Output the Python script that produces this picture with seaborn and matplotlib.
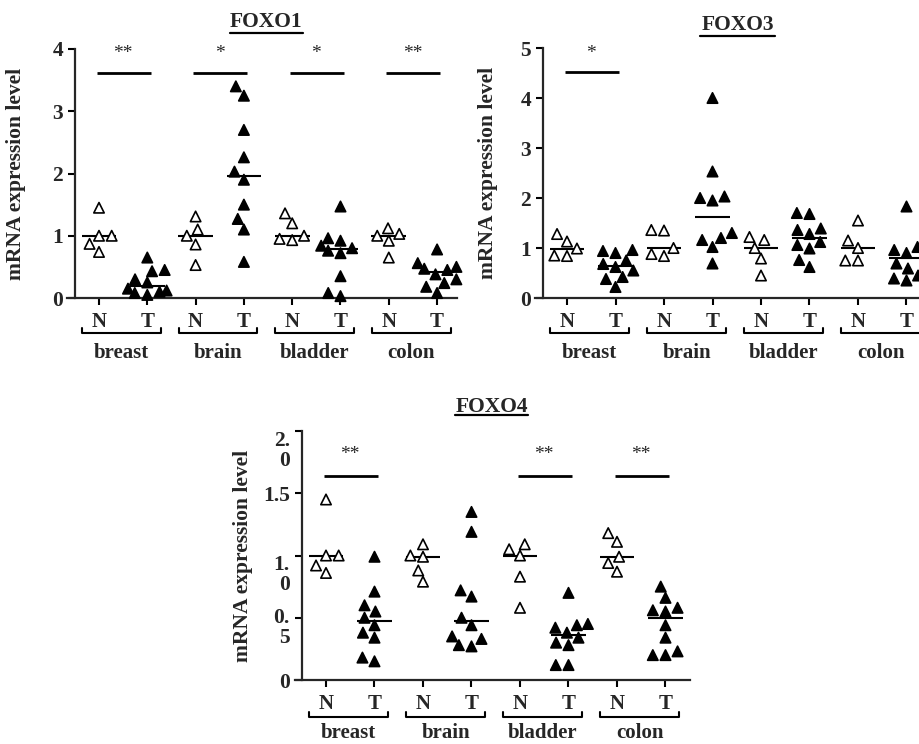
import numpy as np
import pandas as pd
import seaborn as sns
import matplotlib.pyplot as plt
from matplotlib import transforms
from matplotlib.lines import Line2D

tissues = ["breast", "brain", "bladder", "colon"]
groups = ["N", "T"]

# FOXO1 values
foxo1 = {
    ("breast", "N"): [1.45, 1.0, 1.0, 0.87, 0.74],
    ("breast", "T"): [0.65, 0.45, 0.43, 0.3, 0.25, 0.15, 0.12, 0.1, 0.08, 0.05],
    ("brain", "N"): [1.31, 1.1, 1.0, 0.86, 0.53],
    ("brain", "T"): [3.4, 3.25, 2.7, 2.26, 2.03, 1.9, 1.5, 1.27, 1.1, 0.58],
    ("bladder", "N"): [1.36, 1.2, 1.0, 0.95, 0.93],
    ("bladder", "T"): [1.47, 0.96, 0.92, 0.84, 0.8, 0.76, 0.72, 0.35, 0.08, 0.03],
    ("colon", "N"): [1.12, 1.03, 1.0, 0.92, 0.65],
    ("colon", "T"): [0.78, 0.56, 0.5, 0.47, 0.45, 0.38, 0.3, 0.24, 0.18, 0.08],
}
foxo3 = {
    ("breast", "N"): [1.28, 1.13, 0.99, 0.85, 0.84],
    ("breast", "T"): [0.96, 0.94, 0.9, 0.75, 0.68, 0.62, 0.55, 0.42, 0.38, 0.22],
    ("brain", "N"): [1.36, 1.35, 1.0, 0.88, 0.84],
    ("brain", "T"): [4.0, 2.53, 2.03, 2.0, 1.95, 1.3, 1.2, 1.16, 1.02, 0.69],
    ("bladder", "N"): [1.22, 1.16, 1.0, 0.79, 0.45],
    ("bladder", "T"): [1.7, 1.68, 1.39, 1.36, 1.28, 1.12, 1.06, 0.99, 0.76, 0.62],
    ("colon", "N"): [1.55, 1.15, 1.0, 0.75, 0.75],
    ("colon", "T"): [1.83, 1.06, 1.02, 0.96, 0.9, 0.69, 0.59, 0.45, 0.39, 0.35],
}
foxo4 = {
    ("breast", "N"): [1.45, 1.0, 1.0, 0.92, 0.86],
    ("breast", "T"): [0.99, 0.71, 0.6, 0.55, 0.5, 0.44, 0.38, 0.34, 0.18, 0.15],
    ("brain", "N"): [1.09, 1.0, 0.99, 0.88, 0.79],
    ("brain", "T"): [1.35, 1.19, 0.72, 0.67, 0.5, 0.44, 0.35, 0.33, 0.28, 0.27],
    ("bladder", "N"): [1.09, 1.05, 1.0, 0.83, 0.58],
    ("bladder", "T"): [0.7, 0.45, 0.44, 0.42, 0.38, 0.34, 0.3, 0.28, 0.12, 0.12],
    ("colon", "N"): [1.18, 1.11, 0.99, 0.94, 0.87],
    ("colon", "T"): [0.75, 0.66, 0.58, 0.56, 0.55, 0.44, 0.34, 0.23, 0.2, 0.2],
}

# significance: (tissue index, stars)
sig1 = [(0, "**"), (1, "*"), (2, "*"), (3, "**")]
sig3 = [(0, "*")]
sig4 = [(0, "**"), (2, "**"), (3, "**")]

W, H = 920, 744
sns.set_style("ticks")
plt.rcParams["font.family"] = ["Liberation Serif", "DejaVu Serif"]
plt.rcParams["font.weight"] = "bold"

fig = plt.figure(figsize=(W / 100, H / 100), dpi=100)


def to_long(d):
    rows = []
    for (t, g), vals in d.items():
        for v in vals:
            rows.append({"pos": t + " " + g, "type": g, "value": v})
    return pd.DataFrame(rows)


def panel(d, left, right, top, bottom, spacing, tick0, ymax, yticks, ylabels,
          sig, bar_y, star_y, title, title_xy, ul, ylab_x, below=35, lab_gap=20):
    ax = fig.add_axes([left / W, 1 - bottom / H, (right - left) / W, (bottom - top) / H])
    df = to_long(d)
    order = [t + " " + g for t in tissues for g in groups]
    sns.swarmplot(data=df, x="pos", y="value", hue="type", order=order,
                  palette={"N": "white", "T": "black"}, marker="^", size=7.5,
                  edgecolor="black", linewidth=1.2, legend=False, ax=ax, clip_on=False)
    med = df.groupby("pos")["value"].median()
    for i, p in enumerate(order):
        ax.hlines(med[p], i - 0.36, i + 0.36, color="black", lw=1.5)
    x0 = (left - tick0) / spacing
    ax.set_xlim(x0, x0 + (right - left) / spacing)
    ax.set_ylim(0, ymax)
    for s in ["top", "right"]:
        ax.spines[s].set_visible(False)
    ax.spines["left"].set_position(("data", -0.5))
    ax.spines["left"].set_bounds(0, ymax)
    for s in ["left", "bottom"]:
        ax.spines[s].set_linewidth(1.6)
    ax.set_xticks(range(8))
    ax.set_xticklabels(groups * 4, fontsize=15, fontweight="bold")
    ax.set_yticks(yticks)
    ax.set_yticklabels(ylabels, fontsize=15.5, fontweight="bold")
    ax.tick_params(length=5, width=1.5, color="black")
    ax.tick_params(axis="x", pad=5)
    ax.set_xlabel("")
    ax.set_ylabel("mRNA expression level", fontsize=15.5, fontweight="bold")
    ax.yaxis.set_label_coords((ylab_x - left) / (right - left), 0.5)

    # brackets under each N/T pair, with tissue name below
    hgt = bottom - top
    yb = -below / hgt
    hook = transforms.blended_transform_factory(ax.transData, ax.transAxes)
    for k, t in enumerate(tissues):
        a, b = 2 * k - 0.35, 2 * k + 1.28
        ax.plot([a, a, b, b], [yb + 5 / hgt, yb, yb, yb + 5 / hgt], transform=hook,
                color="black", lw=1.5, clip_on=False)
        ax.text((a + b) / 2, yb - lab_gap / hgt, t, transform=hook, ha="center",
                va="center", fontsize=15, fontweight="bold", clip_on=False)

    for k, stars in sig:
        ax.hlines(bar_y, 2 * k - 0.05, 2 * k + 1.07, color="black", lw=2)
        ax.text(2 * k + 0.5, star_y, stars, ha="center", va="center", fontsize=14,
                fontweight="normal")

    fig.text(title_xy[0] / W, 1 - title_xy[1] / H, title, ha="center", va="center",
             fontsize=15.5, fontweight="bold")
    fig.add_artist(Line2D([ul[0] / W, ul[1] / W], [1 - ul[2] / H] * 2,
                          transform=fig.transFigure, color="black", lw=1.6))
    return ax


panel(foxo1, 67, 457, 49, 298, 48.3, 99, 4, [0, 1, 2, 3, 4], ["0", "1", "2", "3", "4"],
      sig1, 3.61, 3.93, "FOXO1", (266, 22), (230, 303, 33), 26)
panel(foxo3, 535, 920, 48, 298, 48.5, 567, 5, [0, 1, 2, 3, 4, 5],
      ["0", "1", "2", "3", "4", "5"],
      sig3, 4.53, 4.9, "FOXO3", (738, 25), (700, 775, 36), 498)
ax4 = panel(foxo4, 295, 690, 431, 680, 48.5, 326, 2, [0, 0.5, 1.0, 1.5, 2.0],
            ["0", "0.\n5", "1.\n0", "1.5", "2.\n0"],
            sig4, 1.64, 1.81, "FOXO4", (492, 407), (455, 528, 415), 253,
            below=37, lab_gap=16)
for lbl in ax4.get_yticklabels():
    if "\n" in lbl.get_text():
        lbl.set_va("top")
        lbl.set_linespacing(1.0)
        up = 10 if lbl.get_text().startswith("0.") else 0
        lbl.set_transform(lbl.get_transform() + transforms.ScaledTranslation(0, up / 100, fig.dpi_scale_trans))

fig.savefig("out.png", dpi=100)
